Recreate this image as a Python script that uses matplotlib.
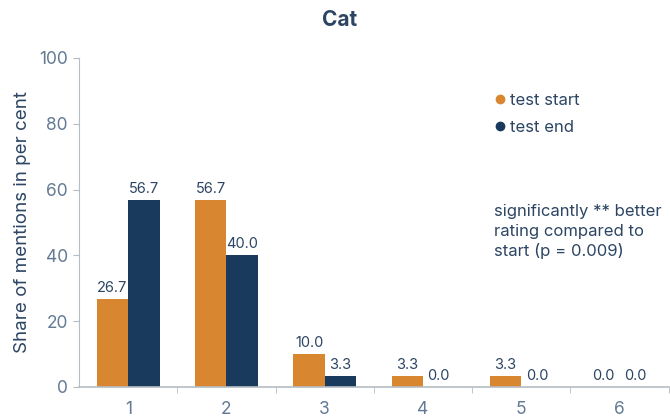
import matplotlib.pyplot as plt
import numpy as np

categories = ["1", "2", "3", "4", "5", "6"]
test_start = [26.7, 56.7, 10.0, 3.3, 3.3, 0.0]
test_end = [56.7, 40.0, 3.3, 0.0, 0.0, 0.0]

orange = "#d8862f"
navy = "#193a5c"
text_col = "#2c4563"
tick_col = "#627a94"
spine_col = "#b4bcc4"

plt.rcParams['font.family'] = ['Inter', 'DejaVu Sans']

fig = plt.figure(figsize=(6.7, 4.17), dpi=100)
ax = fig.add_axes([0.118, 0.072, 0.880, 0.789])

x = np.arange(1, len(categories) + 1)
w = 0.32
ax.bar(x - w / 2, test_start, w, color=orange)
ax.bar(x + w / 2, test_end, w, color=navy)

for xi, v in zip(x, test_start):
    ax.text(xi - w / 2, v + 1.2, f"{v:.1f}", ha='center', va='bottom', fontsize=10.5, color=text_col)
for xi, v in zip(x, test_end):
    ax.text(xi + w / 2, v + 1.2, f"{v:.1f}", ha='center', va='bottom', fontsize=10.5, color=text_col)

ax.set_xlim(0.5, 6.5)
ax.set_ylim(0, 100)
ax.set_yticks([0, 20, 40, 60, 80, 100])
ax.set_xticks(x)
ax.set_xticklabels(categories)
ax.set_xticks(np.arange(1.5, 6.6, 1), minor=True)
ax.tick_params(axis='x', which='major', length=0, pad=10, labelsize=12.5, labelcolor=tick_col)
ax.tick_params(axis='x', which='minor', length=4, color=spine_col)
ax.tick_params(axis='y', length=4, color=spine_col, labelsize=12.5, labelcolor=tick_col, pad=4)

for s in ['top', 'right']:
    ax.spines[s].set_visible(False)
ax.spines['left'].set_color(spine_col)
ax.spines['bottom'].set_color(spine_col)
ax.spines['bottom'].set_linewidth(1.2)

ax.set_ylabel("Share of mentions in per cent", fontsize=13.5, color=text_col, labelpad=6)
fig.suptitle("Cat", x=0.507, y=0.975, fontsize=15, fontweight='bold', color=text_col)

leg_handles = [
    plt.Line2D([], [], marker='o', linestyle='', color=orange, markersize=6),
    plt.Line2D([], [], marker='o', linestyle='', color=navy, markersize=6),
]
leg = ax.legend(leg_handles, ["test start", "test end"], loc='upper left',
                bbox_to_anchor=(0.675, 0.94), frameon=False, fontsize=12,
                handletextpad=0.1, handlelength=1.0, labelspacing=0.75)
for t in leg.get_texts():
    t.set_color(text_col)

ax.text(0.703, 0.555, "significantly ** better\nrating compared to\nstart (p = 0.009)",
        transform=ax.transAxes, fontsize=12, color=text_col, va='top', ha='left',
        linespacing=1.35)

fig.savefig("out.png", dpi=100)
